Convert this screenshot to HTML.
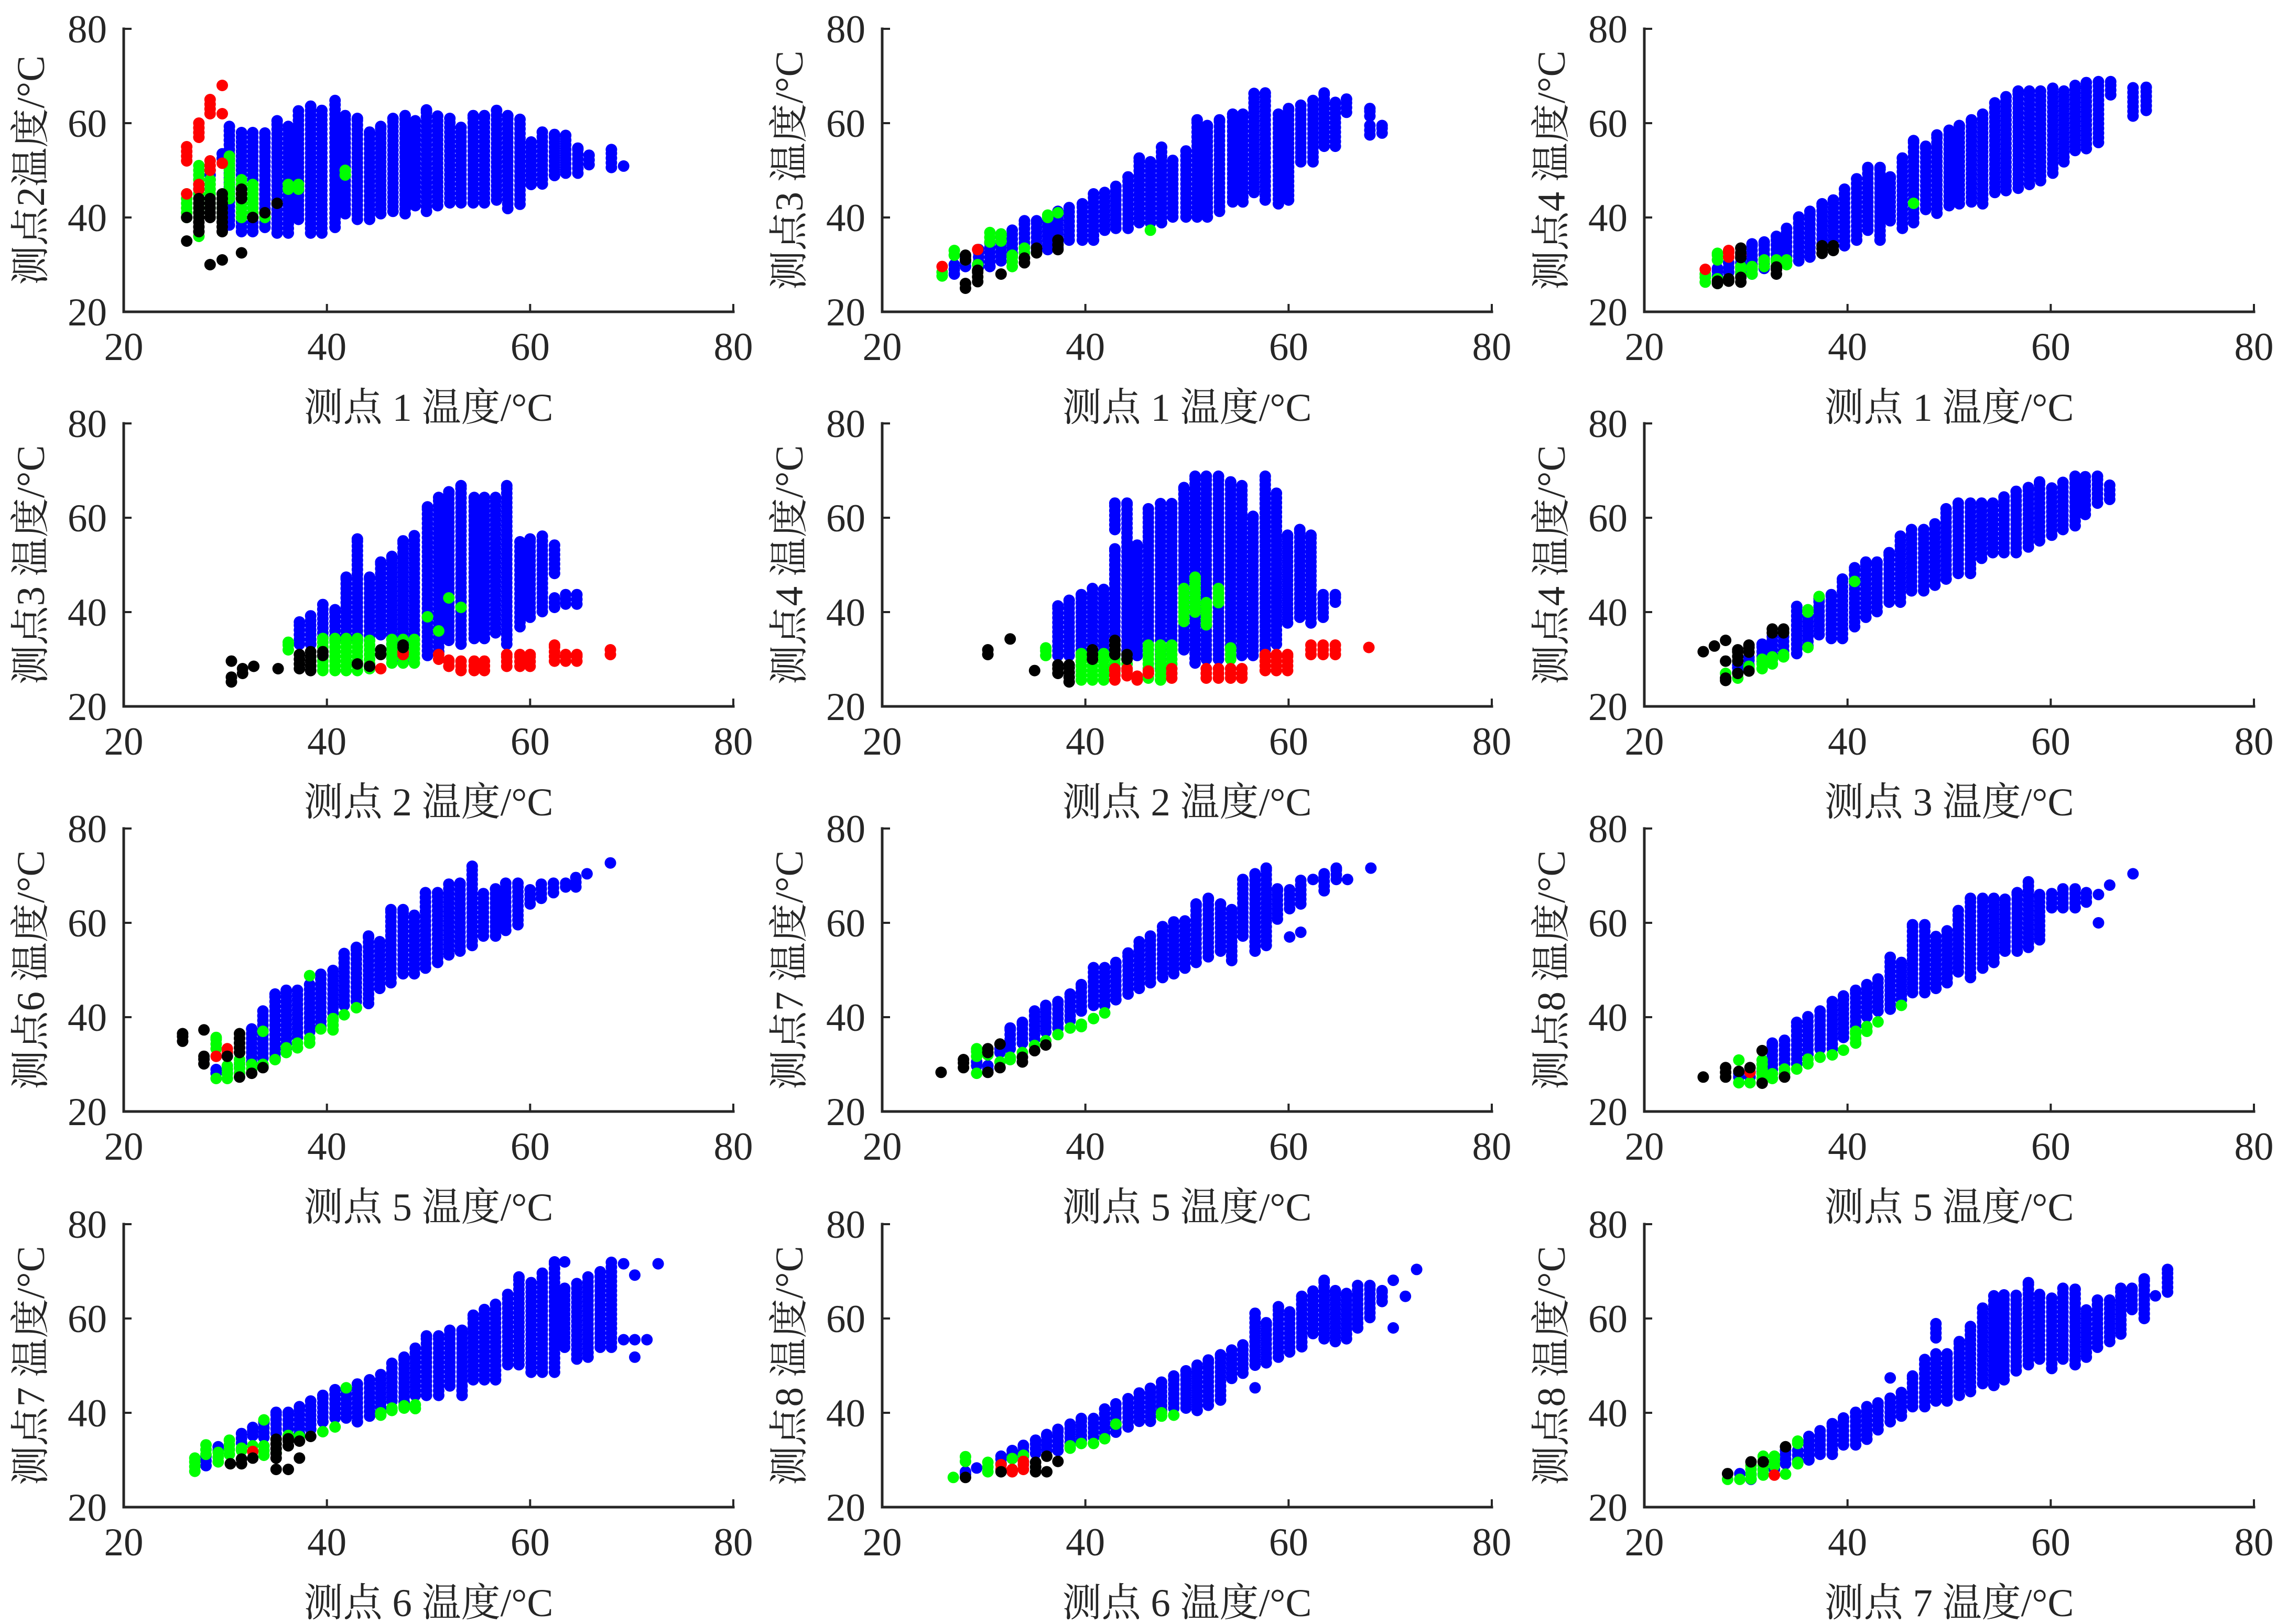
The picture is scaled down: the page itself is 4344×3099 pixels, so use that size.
<!DOCTYPE html>
<html><head><meta charset="utf-8"><style>
html,body{margin:0;padding:0;background:#fff;}
svg{display:block;}
text{font-family:"Liberation Serif","Noto Serif CJK SC","Noto Sans CJK SC",serif;fill:#262626;}
</style></head><body>
<svg id="fig" width="4344" height="3099" viewBox="0 0 4344 3099" xmlns="http://www.w3.org/2000/svg"></svg>
<script>
const xTicks=[20,40,60,80];
const yTicks=[20,40,60,80];
const xLabels=["测点 1 温度/°C","测点 1 温度/°C","测点 1 温度/°C","测点 2 温度/°C","测点 2 温度/°C","测点 3 温度/°C","测点 5 温度/°C","测点 5 温度/°C","测点 5 温度/°C","测点 6 温度/°C","测点 6 温度/°C","测点 7 温度/°C"];
const yLabels=["测点2温度/°C","测点3 温度/°C","测点4 温度/°C","测点3 温度/°C","测点4 温度/°C","测点4 温度/°C","测点6 温度/°C","测点7 温度/°C","测点8 温度/°C","测点7 温度/°C","测点8 温度/°C","测点8 温度/°C"];
const p1Blue=[[27.4,45,46],[28.5,48,50],[29.7,52.5,53.5],[30.4,38.4,59.3],[31.6,37,58.1],[32.7,37,58.1],[33.9,37.9,58.1],[35.1,36.7,60.5],[36.2,36.7,59.3],[37.2,39.6,62.8],[38.4,36.7,63.6],[39.5,36.7,62.8],[40.8,37.9,64.8],[41.8,40.8,61.6],[43,39.6,61],[44.2,39.6,58.1],[45.3,40.8,59.3],[46.5,41.3,61],[47.7,40.8,61.6],[48.7,42.5,60.5],[49.8,41.3,62.8],[50.9,42.5,61.6],[52.1,43.1,61],[53.2,43.1,59.3],[54.4,43.1,61.6],[55.5,43.1,61.6],[56.7,43.7,62.8],[57.8,41.9,61.6],[59,42.8,61],[60.1,47,56],[61.2,47.1,58.1],[62.4,48.9,57.6],[63.5,49.4,57.6],[64.7,49.4,54.7],[65.8,51.2,53.5],[68,50.6,54.4],[69.2,50.9,50.9]];
const p1Green=[[26.2,40,45],[27.4,36,36],[27.4,41,51],[28.5,42,48],[29.7,40,44],[30.4,44,53],[31.6,40,48],[32.7,41,47],[33.9,40,40],[36.2,46,47],[37.2,46,47],[41.8,49,50]];
const p1Red=[[26.2,52,55],[26.2,45,45],[27.4,57,60],[27.4,46,47],[28.5,62,65],[28.5,50,52],[29.7,68,68],[29.7,62,62],[29.7,51.5,51.5],[31.6,45,45]];
const p1Black=[[26.2,35,35],[26.2,40,40],[27.4,37,44],[28.5,30,30],[28.5,40,44],[29.7,31,31],[29.7,37,45],[31.6,32.5,32.5],[31.6,44,46],[32.7,40,40],[33.9,41,41],[35.1,43,43]];
const p2Blue=[[27.1,28,30],[28.2,29.6,31.6],[29.5,29.6,33.2],[30.6,29.6,34.8],[31.7,30.8,36.5],[32.8,32.4,37.3],[34,33.6,39.3],[35.2,32.8,39.3],[36.3,33.2,40.5],[37.3,33.6,41.3],[38.4,35.2,42.1],[39.7,35.2,42.9],[40.8,35.2,45],[41.9,37.3,45.3],[43,37.7,46.6],[44.2,37.7,48.6],[45.3,38.9,52.6],[46.4,38.9,51.8],[47.5,38.9,55.1],[48.6,40.1,52.2],[49.9,40.1,54.2],[51,40.1,60.7],[52,40.1,59.5],[53.2,41.3,60.7],[54.5,43.3,61.9],[55.5,43.3,61.9],[56.6,45.3,66.4],[57.7,43.7,66.4],[59,42.9,61.9],[60,43.7,63.1],[61.2,51.8,63.9],[62.4,51.8,65.1],[63.5,55.1,66.4],[64.6,55.1,64.4],[65.7,62.3,65.1],[68,61.5,63.1],[68,57.5,59.5],[69.2,57.9,59.5]];
const p2Green=[[25.9,27.6,28.4],[27.1,32,33],[28.2,31,31],[29.4,30,30],[30.6,34.8,36.8],[31.7,35,36.5],[32.8,29.6,32],[34,32.5,33.5],[36.3,40,40.5],[37.3,41,41],[46.4,37.3,37.3]];
const p2Red=[[25.9,29.6,29.6],[29.4,33.2,33.2]];
const p2Black=[[28.2,31,32],[28.2,25,26],[29.4,26.4,28.8],[31.7,28,28],[34,30.4,31.6],[35.2,32.5,33.5],[37.3,33.2,35.2]];
const p3Blue=[[27.2,27.6,29.2],[28.3,28.4,30.4],[29.5,28.4,32],[30.6,28,34.4],[31.8,29.2,34.8],[33,31.2,36],[34,30.8,37.7],[35.2,30.8,40.1],[36.3,31.6,41.3],[37.5,32.4,42.9],[38.6,34,43.7],[39.7,34,46.2],[40.9,35.2,48.2],[42,37.3,50.6],[43.2,35.2,50.6],[44.2,39.3,48.6],[45.4,37.7,52.6],[46.5,38.9,56.3],[47.7,41.7,55.1],[48.8,40.9,57.5],[50,42.5,58.7],[51,42.9,59.5],[52.2,43.3,60.7],[53.3,42.9,61.9],[54.5,45.3,64.4],[55.6,45.7,65.6],[56.8,46.2,66.8],[57.9,47,66.8],[59,47.8,66.8],[60.2,49.4,67.6],[61.3,51.8,66.8],[62.4,54.2,68],[63.5,54.6,68.8],[64.7,55.9,68.8],[65.9,66,68.8],[68.1,61.5,67.6],[69.4,62.7,67.6]];
const p3Green=[[26,26.3,28],[27.2,26,27],[27.2,31,32.4],[29.5,28,29.6],[30.6,28,29.6],[31.8,29.6,31],[33,29.6,31],[34,30,31],[46.5,43,43]];
const p3Red=[[26,29,29],[28.3,31.6,33],[29.5,32,32]];
const p3Black=[[27.2,26,26.5],[28.3,26.5,27],[29.5,31.5,33.5],[29.5,26.3,27.5],[33,28,29.5],[37.5,32.4,34],[38.6,33,34]];
const p4Blue=[[37.3,33.2,37.9],[38.4,33.2,39.3],[39.6,33.6,41.7],[40.8,34,40.5],[41.9,34,47.4],[43,34,55.5],[44.2,34,47.4],[45.3,35.2,50.6],[46.4,31.2,51.8],[47.5,29.6,55.1],[48.6,33.2,56.3],[49.9,30.8,62.3],[51,31.6,64.3],[52,34,65.5],[53.2,33.2,66.8],[54.5,34.4,64.3],[55.5,34.4,64.3],[56.6,35.6,64.3],[57.7,33.2,66.8],[59,36.9,55.1],[60,38.9,55.5],[61.2,40.1,56.3],[62.4,48.2,54.2],[62.4,41,43],[63.5,41.7,43.7],[64.6,41.7,43.7]];
const p4Green=[[36.2,32,33.6],[39.6,27.6,34.4],[40.8,27.6,34.4],[41.9,27.6,34.4],[43,27.6,34.4],[44.2,28,34],[46.4,29.2,34.4],[47.5,29.2,34.4],[48.6,29.2,34.4],[49.9,39,39],[51,36,36],[52,43,43],[53.2,41,41]];
const p4Red=[[45.3,28,28],[47.5,31,31.5],[51,30,31],[52,28.5,29.8],[53.2,27.6,29.8],[54.5,27.6,29.8],[55.5,27.6,29.8],[57.7,28.5,31],[59,28.5,31],[60,28.5,31],[62.4,29.6,33],[63.5,29.6,31],[64.6,29.6,31],[67.9,31,32.3]];
const p4Black=[[30.6,29.6,29.6],[30.6,25.2,26.4],[31.7,27,28],[32.8,28.5,28.5],[35.2,28,28],[37.3,28,31],[38.4,27.6,31.6],[39.6,30.8,31.6],[43,29,29],[44.2,28.5,28.5],[45.3,31,32.3],[47.5,32.5,33]];
const p5Blue=[[37.3,30.8,41.3],[38.4,30.8,42.5],[39.6,32,43.7],[40.7,32,45.3],[41.8,30.8,44.9],[42.9,32,53.4],[42.9,57.5,63.1],[44.1,30.8,63.1],[45.1,30.8,54.2],[46.2,32,61.9],[47.4,28,63.1],[48.5,32,63.1],[49.7,32,66.4],[50.8,29.2,68.8],[51.9,30,68.8],[53.1,30,68.8],[54.3,32,67.6],[55.4,30.8,66.8],[56.5,30.8,60.3],[57.7,32,68.8],[58.8,33.2,65.5],[59.9,37.7,56.3],[61.1,38.9,57.5],[62.2,37.7,56.3],[63.4,38.9,43.7],[64.6,42.1,43.7]];
const p5Green=[[36.1,30.8,32.4],[39.6,25.6,31.2],[40.7,25.6,31.2],[41.8,25.6,31.2],[42.9,27,31],[44.1,28,31],[46.2,26,33],[47.4,25.6,33],[48.5,27,33],[49.7,38,45],[50.8,40,47.4],[51.9,37.3,42],[53.1,42,45],[54.3,30,32.4]];
const p5Red=[[42.9,25.6,28],[44.1,26.5,28],[45.1,25.6,26.4],[46.2,27,27.5],[48.5,26,28],[51.9,26,28],[53.1,26,28],[54.3,26,28],[55.4,26,28],[57.7,27.6,31],[58.8,27.6,31],[59.9,27.6,31],[62.2,31,33.2],[63.4,31,33.2],[64.6,31,33.2],[67.9,32.5,32.5]];
const p5Black=[[30.4,31,32.3],[32.6,34.3,34.3],[35,27.6,27.6],[37.3,27,28.8],[38.4,25.2,28.8],[40.7,30,32],[42.9,31,34],[44.1,30,31]];
const p6Blue=[[29.2,27.2,28.8],[30.3,28.8,30.4],[31.6,29.6,33.2],[32.6,30,34.8],[33.7,30.8,36],[35,31.2,41.3],[36.1,32.8,39.3],[37.2,35.2,42.9],[38.4,34.4,43.7],[39.5,34.4,47],[40.7,36.9,49.4],[41.8,38.9,50.6],[42.9,40.1,50.6],[44.1,42.1,52.6],[45.2,42.1,56.3],[46.3,44.5,57.5],[47.5,44.5,57.5],[48.6,45.7,58.7],[49.7,47,61.9],[50.9,48.2,63.1],[52.1,48.2,63.1],[53.2,51.4,63.1],[54.3,52.6,63.1],[55.4,52.6,64.4],[56.6,52.6,65.6],[57.8,53.8,66.4],[58.9,55.1,67.6],[60.1,56.3,66.4],[61.2,57.5,67.6],[62.4,58.3,68.8],[63.4,60.7,68.8],[64.6,63.1,68.8],[65.8,63.9,67.2]];
const p6Green=[[28,27,27],[29.2,26,26],[30.3,28,28.5],[31.6,28,30],[32.6,29,30.5],[33.7,30.5,31],[36.1,40,40.5],[36.1,32.5,32.5],[37.2,43.3,43.3],[40.7,46.5,46.5]];
const p6Red=[];
const p6Black=[[25.8,31.6,31.6],[26.9,32.8,32.8],[28,34,34],[28,29.6,29.6],[28,25.5,26],[29.2,29.6,32],[29.2,27,27],[30.3,31.5,33],[30.3,27.5,27.5],[32.6,35.6,36.4],[33.7,35.6,36.4]];
const p7Blue=[[29.1,28.1,28.9],[30.2,28.1,28.9],[31.4,29.3,30.1],[32.6,30.5,37.7],[33.7,31.3,41.3],[34.9,31.3,44.9],[36,33.3,45.7],[37.1,35.7,45.7],[38.3,36.9,46.9],[39.4,38.1,49.2],[40.6,40.9,50],[41.7,42.5,53.6],[42.9,43.3,54.8],[44.1,42.9,57.2],[45.2,46.1,56],[46.3,47.3,62.8],[47.5,49.2,62.8],[48.6,49.2,61.6],[49.7,50.4,66.4],[50.9,51.6,66.4],[52,53.2,68.4],[53.1,54,68.4],[54.3,55.2,72],[55.4,57.2,66.4],[56.6,57.2,67.2],[57.6,58.4,68.4],[58.8,59.6,68.4],[60,64,67.2],[61.1,65.2,68.4],[62.3,66.4,68.4],[63.5,67.6,68.4],[64.5,67.6,69.6],[65.6,70.4,70.4],[67.9,72.7,72.7]];
const p7Green=[[29.1,33.3,35.7],[29.1,27,27],[30.2,27,29.7],[31.4,28.2,31],[32.6,29,30],[33.7,37,37],[33.7,29.5,30],[34.9,31,31],[36,32.5,33.7],[37.1,33.5,34.5],[38.3,48.8,48.8],[38.3,34.5,35.5],[39.4,37.5,37.5],[40.6,37.3,39.7],[41.7,40.5,40.5],[42.9,42,42]];
const p7Red=[[29.1,31.7,31.7],[30.2,32.5,33.3]];
const p7Black=[[25.8,34.9,36.5],[27.9,37.3,37.3],[27.9,30.1,31.7],[30.2,31.7,31.7],[31.4,32.5,36.5],[31.4,27.3,27.3],[32.6,28.1,28.1],[33.7,29.3,29.3]];
const p8Blue=[[29.3,29.7,30.5],[30.4,28.9,29.7],[31.6,32.5,33.3],[32.6,33.3,37.7],[33.8,34.5,38.9],[35,35.3,41.3],[36.1,36.9,42.5],[37.3,37.7,43.3],[38.5,39.3,44.9],[39.6,41.3,46.9],[40.8,42.5,50.5],[41.9,42.5,50.5],[43,43.7,51.6],[44.2,44.9,53.6],[45.3,46.1,56],[46.4,47.3,57.2],[47.6,48.4,59.2],[48.7,49.2,60.4],[49.8,50.4,60.4],[50.9,51.6,64],[52.1,52.8,65.2],[53.3,54,64],[54.4,52,62.8],[55.5,57.2,69.2],[56.7,54,70.4],[57.8,55.2,71.6],[58.9,60.8,67.2],[60.1,63,67.2],[60.1,57,57],[61.2,64,69.2],[61.2,58,58],[62.4,69.2,69.2],[63.5,66.8,70.4],[64.7,69.2,71.6],[65.8,69.2,69.2],[68.1,71.6,71.6]];
const p8Green=[[29.3,31.7,33.3],[29.3,28.1,28.1],[30.4,32,32],[31.6,30.5,30.5],[32.6,31,31.5],[33.8,32.5,32.5],[35,34,34],[36.1,35,35],[37.3,36.3,36.3],[38.5,37.7,37.7],[39.6,38,38.5],[40.8,39.7,39.7],[41.9,40.9,40.9]];
const p8Red=[];
const p8Black=[[25.8,28.3,28.3],[28,29.3,31],[30.4,32.5,33.3],[30.4,28.3,28.3],[31.6,34.3,34.3],[31.6,29.3,29.3],[33.8,30.5,31.7],[35,32.9,32.9],[36.1,34.1,34.1]];
const p9Blue=[[29.3,27.3,28.1],[30.4,27.3,28.5],[31.6,28.5,28.5],[32.6,28.9,34.5],[33.8,30.1,35.3],[35,30.1,38.9],[36.1,32.1,40.1],[37.3,33.3,41.3],[38.5,33.3,43.3],[39.6,35.7,44.5],[40.8,38.1,45.7],[41.9,40.1,46.9],[43,41.3,48.1],[44.2,41.7,52.8],[45.3,43.7,51.6],[46.4,45.2,59.6],[47.6,45.2,59.6],[48.7,46.1,57.2],[49.8,47.3,58.4],[50.9,49.6,62.8],[52.1,48.4,65.2],[53.3,50.4,65.2],[54.4,51.6,65.2],[55.5,54,65.2],[56.7,54,66.4],[57.8,54.8,68.7],[58.9,56.4,66],[60.1,63.2,66.4],[61.2,63.2,67.2],[62.4,63.2,67.2],[63.5,64.4,66.4],[64.7,66,66],[64.7,60,60],[65.8,68,68],[68.1,70.4,70.4]];
const p9Green=[[29.3,30.9,30.9],[29.3,26.1,26.1],[30.4,26.1,26.1],[31.6,27,30.9],[32.6,27,28],[33.8,28,29],[35,29,29],[36.1,30.1,31.3],[37.3,31.5,31.5],[38.5,32,32],[39.6,33,33],[40.8,34.5,37],[41.9,37,38],[43,39,39],[45.3,42.5,42.5]];
const p9Red=[[30.4,28.3,28.3]];
const p9Black=[[25.8,27.3,27.3],[28,27.3,29.3],[29.3,28.5,28.5],[30.4,29.3,29.3],[31.6,32.9,32.9],[31.6,26,26],[33.8,27.3,27.3]];
const p10Blue=[[28.1,28.8,30.8],[29.3,32,32.8],[31.6,33.6,35.6],[32.7,35.2,36.9],[33.8,34.8,38.1],[35,35.6,40.1],[36.2,36.5,40.1],[37.3,35.6,41.3],[38.4,36.5,42.5],[39.6,38.1,43.7],[40.8,38.9,44.9],[41.9,38.9,44.9],[43,38.1,46.2],[44.2,39.3,47],[45.3,40.1,48.2],[46.4,42.5,50.6],[47.6,41.3,51.8],[48.7,43.7,53.9],[49.8,43.7,56.3],[51,43.7,56.3],[52.1,45.7,57.5],[53.3,43.7,57.5],[54.4,47,60.7],[55.5,47,61.9],[56.6,47,63.1],[57.8,50.2,65.1],[58.9,50.2,68.8],[60.1,48.6,67.6],[61.2,48.6,69.6],[62.4,48.6,72],[63.4,72,72],[63.4,53.9,66.4],[64.6,51.4,67.6],[65.7,51.8,68.8],[66.9,53.9,70],[68,53.9,72],[69.2,71.6,71.6],[69.2,55.5,55.5],[70.3,69.2,69.2],[70.3,55.5,55.5],[70.3,51.8,51.8],[71.5,55.5,55.5],[72.6,71.6,71.6]];
const p10Green=[[27,27.6,30.4],[28.1,31.2,33.2],[29.3,29.6,31.6],[30.4,31.2,34.4],[31.6,32,32.5],[32.7,33,33],[33.8,38.5,38.5],[33.8,31,33],[35,31.5,31.5],[36.2,35.2,35.2],[37.3,35,35],[39.6,36,36],[40.8,37,37],[41.9,45.3,45.3],[45.3,39.5,40],[46.4,40.5,41],[47.6,41,41.5],[48.7,40.9,41.7]];
const p10Red=[[32.7,31.8,31.8]];
const p10Black=[[30.5,29.2,29.2],[31.6,29.2,30.4],[32.7,30.4,30.4],[35,30.4,34.4],[35,28,28],[36.2,33,34.5],[36.2,28,28],[37.3,34,34],[37.3,30.4,30.4],[38.4,35,35]];
const p11Blue=[[28.2,27,27.5],[29.3,28.3,28.3],[31.7,29.2,30.8],[32.8,30.3,32],[33.9,30.8,33.1],[35.1,31.4,34.2],[36.2,32,35.4],[37.3,32,36.5],[38.5,33.7,37.6],[39.6,34.2,38.8],[40.8,34.8,38.8],[41.9,34.8,41],[43,35.9,42.1],[44.2,37,43.3],[45.3,38.2,44.4],[46.4,38.2,45.5],[47.5,40.5,46.7],[48.7,41,47.8],[49.9,41,48.9],[51,40.5,50.1],[52.1,41.6,51.2],[53.3,42.7,52.3],[54.4,47.3,53.4],[55.5,48.4,54.6],[56.7,50.1,61.4],[56.7,45.3,45.3],[57.8,50.6,59.1],[59,51.8,62.5],[60.1,52.9,61.4],[61.3,54,64.7],[62.4,56.8,65.9],[63.5,55.7,68.1],[64.6,55.1,65.9],[65.7,55.7,65.3],[66.8,58,67],[68,60.2,67],[69.2,63.6,65.9],[70.3,68.1,68.1],[70.3,58,58],[71.5,64.7,64.7],[72.6,70.4,70.4]];
const p11Green=[[27,26.3,26.3],[28.2,29.7,30.8],[30.4,27.5,29.7],[32.8,30.3,30.3],[33.9,31,31],[38.5,32.5,33],[39.6,33.5,33.5],[40.8,33.5,33.5],[41.9,34.5,34.5],[43,37.6,37.6],[47.5,39.3,40],[48.7,39.5,39.5]];
const p11Red=[[31.7,28,29.2],[32.8,27.5,28],[33.9,28,29.7]];
const p11Black=[[28.2,26.3,26.3],[31.7,27.5,27.5],[35.1,27.5,29.7],[36.2,30.8,30.8],[36.2,27.5,27.5],[37.3,29.7,29.7]];
const p12Blue=[[29.4,27.1,27.1],[30.5,25.9,27.1],[31.7,27,28],[32.8,28,28.8],[33.9,29.2,32],[35.1,30,32],[36.2,30,35.2],[37.3,31.2,36.4],[38.5,31.2,37.7],[39.6,33.2,38.9],[40.8,33.2,40.1],[41.9,34.4,41.3],[43,36.4,42.1],[44.2,38.1,43.3],[44.2,47.4,47.4],[45.3,39.3,44.5],[46.4,41.3,47.8],[47.6,41.3,51.4],[48.7,55.9,59.1],[48.7,42.5,52.6],[49.8,42.5,52.6],[51,43.7,55.1],[52.1,44.5,58.3],[53.3,46.2,62.3],[54.4,45.8,65.1],[55.4,47,65.1],[56.6,48.9,65.1],[57.8,50.2,67.6],[58.9,51.4,65.1],[60.1,49.4,64.3],[61.2,51.4,66.4],[62.4,50.2,66.4],[63.5,51.8,62],[64.6,53.9,63.9],[65.8,55.1,63.9],[66.9,56.7,66.4],[68,61.9,66.4],[69.2,60,68.4],[70.3,64.8,64.8],[71.5,65.6,70.4]];
const p12Green=[[28.2,25.9,25.9],[29.4,25.9,25.9],[30.5,26,28.8],[31.7,26.8,30.8],[32.8,28.8,30.8],[33.9,27,27],[35.1,33.5,34],[35.1,29.2,29.5]];
const p12Red=[[32.8,26.8,26.8]];
const p12Black=[[28.2,27.1,27.1],[30.5,29.6,29.6],[31.7,29.6,29.6],[33.9,32.8,32.8]];

const blueSets=[p1Blue,p2Blue,p3Blue,p4Blue,p5Blue,p6Blue,p7Blue,p8Blue,p9Blue,p10Blue,p11Blue,p12Blue];
const greenSets=[p1Green,p2Green,p3Green,p4Green,p5Green,p6Green,p7Green,p8Green,p9Green,p10Green,p11Green,p12Green];
const redSets=[p1Red,p2Red,p3Red,p4Red,p5Red,p6Red,p7Red,p8Red,p9Red,p10Red,p11Red,p12Red];
const blackSets=[p1Black,p2Black,p3Black,p4Black,p5Black,p6Black,p7Black,p8Black,p9Black,p10Black,p11Black,p12Black];

const NS="http://www.w3.org/2000/svg";
const svg=document.getElementById('fig');
const colX=[236,1683,3137], rowY=[55,808,1581,2336], W=1163, H=540, R=11;
function mk(tag,attrs,parent){const e=document.createElementNS(NS,tag);for(const k in attrs)e.setAttribute(k,attrs[k]);parent.appendChild(e);return e;}

for(let p=0;p<12;p++){
  const x0=colX[p%3], y0=rowY[Math.floor(p/3)];
  const sx=v=>x0+(v-20)/60*W;
  const sy=v=>y0+H-(v-20)/60*H;
  const g=mk('g',{},svg);
  
  
  const series=[[blueSets[p],'#0000ff','blue'],[greenSets[p],'#00ff00','green'],[redSets[p],'#ff0000','red'],[blackSets[p],'#000000','black']];
  for(const [data,col,nm] of series){
    const sg=mk('g',{fill:col},g);
    
    
    for(const [x,a,b] of data){
      let last=null;
      for(let y=a;y<=b+0.01;y+=1){
        const c=mk('circle',{cx:sx(x).toFixed(1),cy:sy(y).toFixed(1),r:R},sg);
        
        
        last=y;
      }
      if(last!==null && b-last>0.3){
        const c=mk('circle',{cx:sx(x).toFixed(1),cy:sy(b).toFixed(1),r:R},sg);
        
        
      }
    }
  }
  const ax=mk('path',{d:`M${x0},${y0} L${x0},${y0+H} L${x0+W},${y0+H}`,fill:'none',stroke:'#262626','stroke-width':5,'stroke-linecap':'square'},g);
  
  
  for(const t of xTicks){
    const tk=mk('line',{x1:sx(t),y1:y0+H,x2:sx(t),y2:y0+H-15,stroke:'#262626','stroke-width':4},g);
    
    
    const tl=mk('text',{x:sx(t),y:y0+H+92,'text-anchor':'middle','font-size':75},g);
    tl.textContent=t;
    
    
  }
  for(const t of yTicks){
    const tk=mk('line',{x1:x0,y1:sy(t),x2:x0+15,y2:sy(t),stroke:'#262626','stroke-width':4},g);
    
    
    const tl=mk('text',{x:x0-32,y:sy(t)+26,'text-anchor':'end','font-size':75},g);
    tl.textContent=t;
    
    
  }
  const xl=mk('text',{x:x0+W/2,y:y0+H+208,'text-anchor':'middle','font-size':75},g);
  xl.textContent=xLabels[p];
  
  
  const cx=x0-152, cy=y0+H/2;
  const yl=mk('text',{x:cx,y:cy,'text-anchor':'middle','font-size':75,transform:`rotate(-90 ${cx} ${cy})`},g);
  yl.textContent=yLabels[p];
  
  
}
</script>
</body></html>
